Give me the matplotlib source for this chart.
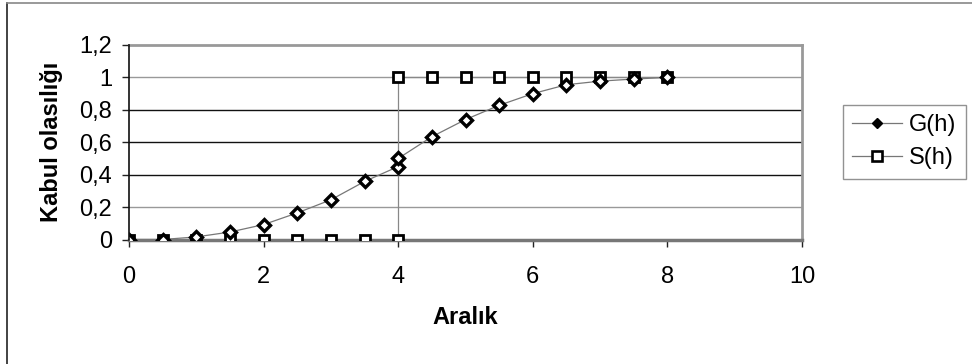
import matplotlib
matplotlib.use("Agg")
import matplotlib.pyplot as plt
from matplotlib.lines import Line2D

plt.rcParams['font.family'] = ['Liberation Sans', 'DejaVu Sans']

# Data
g_x = [0, 0.5, 1, 1.5, 2, 2.5, 3, 3.5, 4, 4, 4.5, 5, 5.5, 6, 6.5, 7, 7.5, 8]
g_y = [0, 0, 0.016, 0.046, 0.092, 0.164, 0.245, 0.358, 0.45, 0.50, 0.634, 0.74, 0.828, 0.90, 0.955, 0.977, 0.99, 1.0]
s_x = [0, 0.5, 1, 1.5, 2, 2.5, 3, 3.5, 4, 4, 4.5, 5, 5.5, 6, 6.5, 7, 7.5, 8]
s_y = [0, 0, 0, 0, 0, 0, 0, 0, 0, 1, 1, 1, 1, 1, 1, 1, 1, 1]
y_ticks = [0, 0.2, 0.4, 0.6, 0.8, 1.0, 1.2]
y_tick_labels = ['0', '0,2', '0,4', '0,6', '0,8', '1', '1,2']
x_ticks = [0, 2, 4, 6, 8, 10]
x_tick_labels = ['0', '2', '4', '6', '8', '10']
series_names = ['G(h)', 'S(h)']

W, H = 972, 364
fig = plt.figure(figsize=(W / 100, H / 100), dpi=100)
ax = fig.add_axes([129 / W, 1 - 239.5 / H, (802 - 129) / W, (239.5 - 45) / H])

# outer frame (left and top only visible)
fig.add_artist(Line2D([7 / W, 7 / W], [0, 1 - 3 / H], transform=fig.transFigure, color='#222222', lw=1.2))
fig.add_artist(Line2D([7 / W, 1], [1 - 3 / H, 1 - 3 / H], transform=fig.transFigure, color='#888888', lw=1.2))

# gridlines
ax.set_yticks(y_ticks)
ax.set_yticklabels(y_tick_labels)
ax.yaxis.grid(True, lw=1.0)
grid_colors = ['none', '#999999', '#111111', '#111111', '#111111', '#999999', 'none']
for gl, c in zip(ax.get_ygridlines(), grid_colors):
    gl.set_color(c)
ax.set_axisbelow(True)

ax.plot(s_x, s_y, color='#888888', lw=0.9, marker='s', ms=7, mfc='white',
        mec='black', mew=2.0, label=series_names[1], zorder=3)
ax.plot(g_x, g_y, color='#777777', lw=0.9, marker='D', ms=6.5, mfc='white',
        mec='black', mew=2.4, label=series_names[0], zorder=4)

ax.set_xlim(0, 10)
ax.set_ylim(0, 1.2)
ax.set_xticks(x_ticks)
ax.set_xticklabels(x_tick_labels)
ax.tick_params(axis='both', labelsize=17, direction='out', length=5, width=1, color='#222222')
ax.tick_params(axis='y', pad=7)
ax.tick_params(axis='x', pad=14)

ax.spines['left'].set_color('#111111')
ax.spines['left'].set_linewidth(1.2)
ax.spines['bottom'].set_color('#777777')
ax.spines['bottom'].set_linewidth(2.5)
ax.spines['top'].set_color('#999999')
ax.spines['top'].set_linewidth(2.0)
ax.spines['right'].set_color('#999999')
ax.spines['right'].set_linewidth(2.0)
ax.spines['left'].set_zorder(5)

ax.set_xlabel('Aralık', fontsize=17, fontweight='bold', labelpad=13)
ax.set_ylabel('Kabul olasılığı', fontsize=17, fontweight='bold', labelpad=12)

handles = [
    Line2D([], [], color='#777777', lw=0.9, marker='D', ms=5.5, mfc='black', mec='black'),
    Line2D([], [], color='#777777', lw=0.9, marker='s', ms=6.5, mfc='white', mec='black', mew=1.9),
]
leg = fig.legend(handles, series_names, loc='upper left',
                 bbox_to_anchor=(843 / W, 1 - 105 / H), fontsize=17,
                 frameon=True, fancybox=False, edgecolor='#777777',
                 handlelength=2.1, handletextpad=0.3, borderpad=0.4,
                 labelspacing=0.45, borderaxespad=0)
leg.get_frame().set_linewidth(1.0)

fig.savefig('out.png', dpi=100)
